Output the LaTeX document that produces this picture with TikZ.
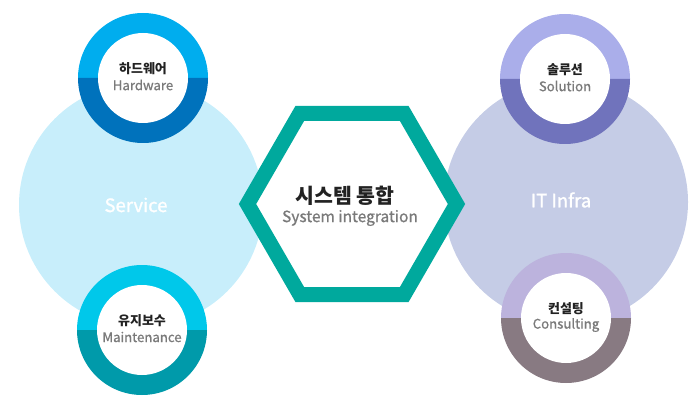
\documentclass[tikz,border=0pt]{standalone}
\usepackage{fontspec}
\setmainfont{Noto Sans CJK KR}
\newfontfamily\medfont{Noto Sans CJK KR}[FakeBold=0.8]
\newfontfamily\semifont{Noto Sans CJK KR}[FakeBold=1.4]
\definecolor{svcbg}{HTML}{C8EEFB}
\definecolor{infrabg}{HTML}{C5CCE6}
\definecolor{hexline}{HTML}{00A99D}
\definecolor{hwtop}{HTML}{00ADEE}
\definecolor{hwbot}{HTML}{0072BC}
\definecolor{mttop}{HTML}{00C8EA}
\definecolor{mtbot}{HTML}{009AAA}
\definecolor{sltop}{HTML}{AAAEEA}
\definecolor{slbot}{HTML}{7073BC}
\definecolor{cstop}{HTML}{BCB3DD}
\definecolor{csbot}{HTML}{887A82}
\definecolor{kotext}{HTML}{222222}
\definecolor{entext}{HTML}{7A7A7A}
\begin{document}
\begin{tikzpicture}[x=1pt,y=1pt,
    kolabel/.style={text=kotext,font=\bfseries\fontsize{13}{14}\selectfont,inner sep=0pt},
    enlabel/.style={text=entext,font=\medfont\fontsize{13.2}{14}\selectfont,inner sep=0pt},
    biglabel/.style={text=white,font=\semifont\fontsize{18.5}{20}\selectfont,inner sep=0pt}]
	\useasboundingbox (0,0) rectangle (700,402);
	% big circles
	\fill[svcbg] (141,197) circle[radius=122];
	\fill[infrabg] (566,200) circle[radius=122];
	\node[biglabel] (service) at (136,197) {Service};
	\node[biglabel] (infra) at (561,202) {IT Infra};
	% rings
	\foreach \cx/\cy/\ctop/\cbot/\nm/\ko/\en in {
			143/324/hwtop/hwbot/hw/하드웨어/Hardware,
			142/72/mttop/mtbot/mt/유지보수/Maintenance,
			565/323/sltop/slbot/sl/솔루션/Solution,
			566/84/cstop/csbot/cs/컨설팅/Consulting}{
		\fill[\ctop] (\cx-65,\cy) arc[start angle=180,end angle=0,radius=65] -- cycle;
		\fill[\cbot] (\cx-65,\cy) arc[start angle=180,end angle=360,radius=65] -- cycle;
		\fill[white] (\cx,\cy) circle[radius=45];
		\node[kolabel] (\nm-ko) at (\cx,\cy+9) {\ko};
		\node[enlabel] (\nm-en) at (\cx,\cy-7) {\en};
	}
	% hexagon
	\draw[hexline,fill=white,line width=15pt,miter limit=4]
		(352,198) ++(0:104.5) -- ++(120:104.5) -- ++(180:104.5) -- ++(240:104.5)
		-- ++(300:104.5) -- ++(0:104.5) -- cycle;
	\node[kolabel,font=\bfseries\fontsize{20.5}{22}\selectfont] (si-ko) at (345,206) {시스템 통합};
	\node[enlabel,font=\medfont\fontsize{15.5}{17}\selectfont] (si-en) at (350,184) {System integration};
\end{tikzpicture}
\end{document}
